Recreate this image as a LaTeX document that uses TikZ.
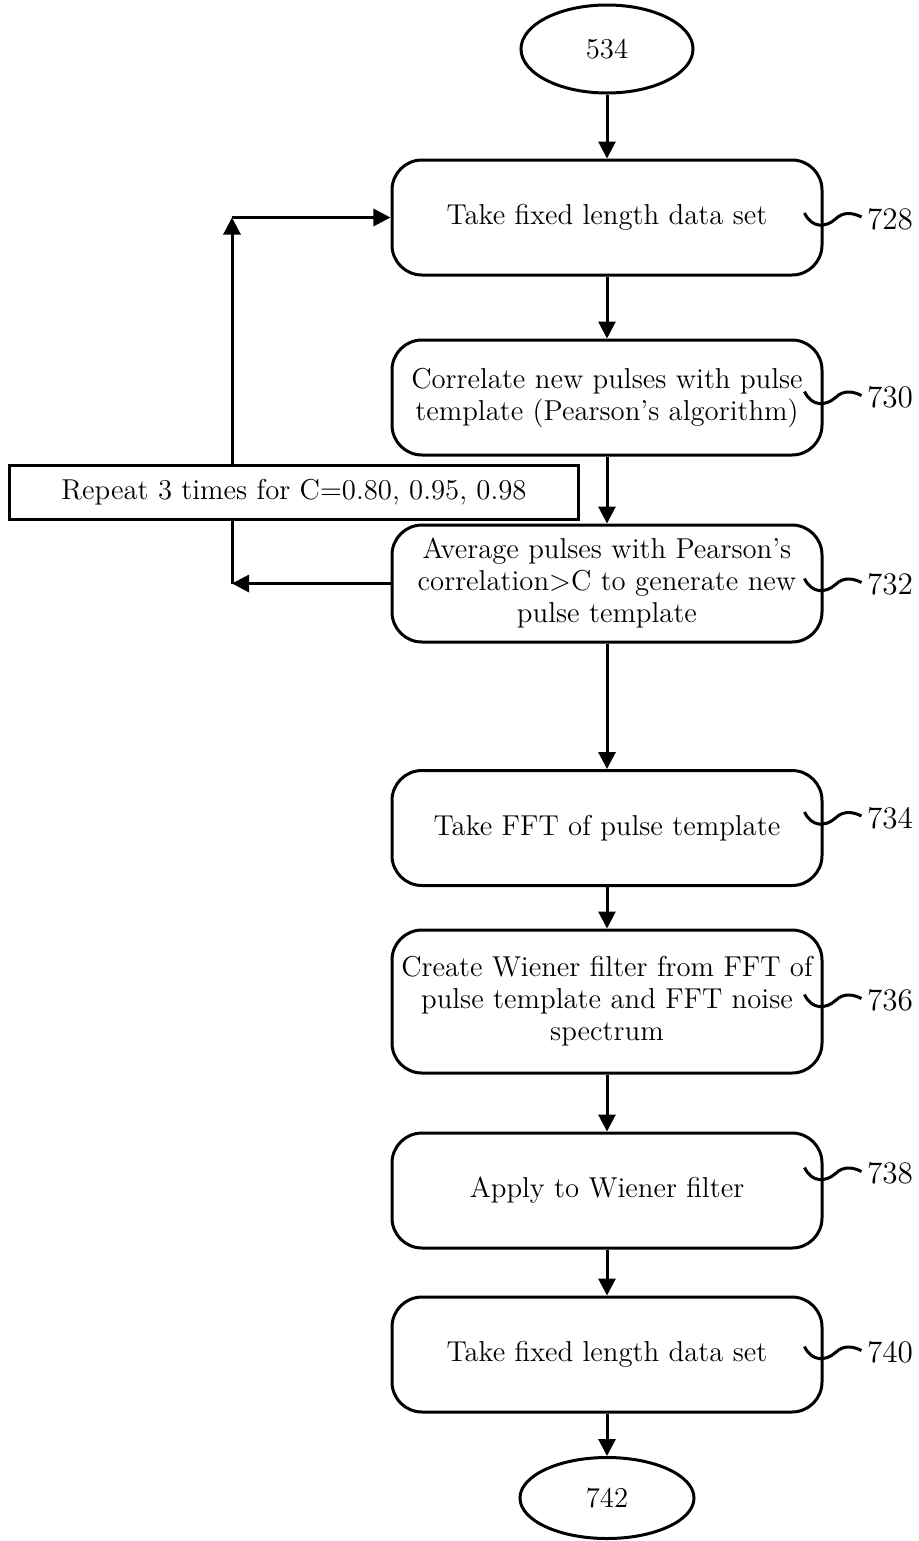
\documentclass[tikz,border=0pt]{standalone}
\usetikzlibrary{arrows.meta,shapes.geometric}
\begin{document}
\begin{tikzpicture}[x=0.4pt,y=-0.4pt, line width=1.2pt,
  font=\fontsize{11.5}{12.8}\selectfont,
  stepbox/.style={draw, rounded corners=12pt, minimum width=172pt, minimum height=46pt, align=center, inner sep=0pt},
  term/.style={draw, ellipse, minimum width=68.8pt, minimum height=35.2pt, inner sep=0pt},
  arr/.style={-{Triangle[length=6.8pt,width=6.8pt]}},
  reflbl/.style={anchor=west, inner sep=0pt, font=\fontsize{12.5}{14}\selectfont}
]
\useasboundingbox (0,0) rectangle (919,1541);
\newcommand\reflabel[3]{%
  \begin{scope}[shift={(#1.east)}]
    \draw (-19,{#2-6}) .. controls (-12,{#2+9}) and (2,{#2+9}) .. (12,{#2}) .. controls (20,{#2-8}) and (30,{#2-6}) .. (38,{#2-2});
    \node[reflbl] (l#3) at (42,{#2}) {#3};
  \end{scope}}

\node[term] (t534) at (607,49) {534};
\node[stepbox] (b728) at (607,217.5) {Take fixed length data set};
\node[stepbox] (b730) at (607,397.5) {Correlate new pulses with pulse\\template (Pearson's algorithm)};
\node[stepbox, minimum height=46.8pt] (b732) at (607,583.5) {Average pulses with Pearson's\\correlation{\textgreater}C to generate new\\pulse template};
\node[stepbox] (b734) at (607,828) {Take FFT of pulse template};
\node[stepbox, minimum height=57.2pt] (b736) at (607,1001.5) {Create Wiener filter from FFT of\\pulse template and FFT noise\\spectrum};
\node[stepbox] (b738) at (607,1190.5) {Apply to Wiener filter};
\node[stepbox] (b740) at (607,1354.5) {Take fixed length data set};
\node[term, minimum height=32.4pt, minimum width=69.6pt] (t742) at (607,1498) {742};
\node[draw, minimum width=227.2pt, minimum height=21.6pt, inner sep=0pt] (rep) at (294,492) {Repeat 3 times for C=0.80, 0.95, 0.98};

\draw[arr] (t534) -- (b728);
\draw[arr] (b728) -- (b730);
\draw[arr] (b730) -- (b732);
\draw[arr] (b732) -- (b734);
\draw[arr] (b734) -- (b736);
\draw[arr] (b736) -- (b738);
\draw[arr] (b738) -- (b740);
\draw[arr] (b740) -- (t742);

\coordinate (lx) at (232,0);
\draw[arr] (b732.west) -- (b732.west -| lx) coordinate (lb);
\draw (lb) -- (lb |- rep.south);
\draw[arr] (lb |- rep.north) -- (b728.west -| lx) coordinate (lt);
\draw[arr] (lt) -- (b728.west);

\reflabel{b728}{1.5}{728}
\reflabel{b730}{0}{730}
\reflabel{b732}{1}{732}
\reflabel{b734}{-10}{734}
\reflabel{b736}{-1}{736}
\reflabel{b738}{-17}{738}
\reflabel{b740}{-2}{740}
\end{tikzpicture}
\end{document}
